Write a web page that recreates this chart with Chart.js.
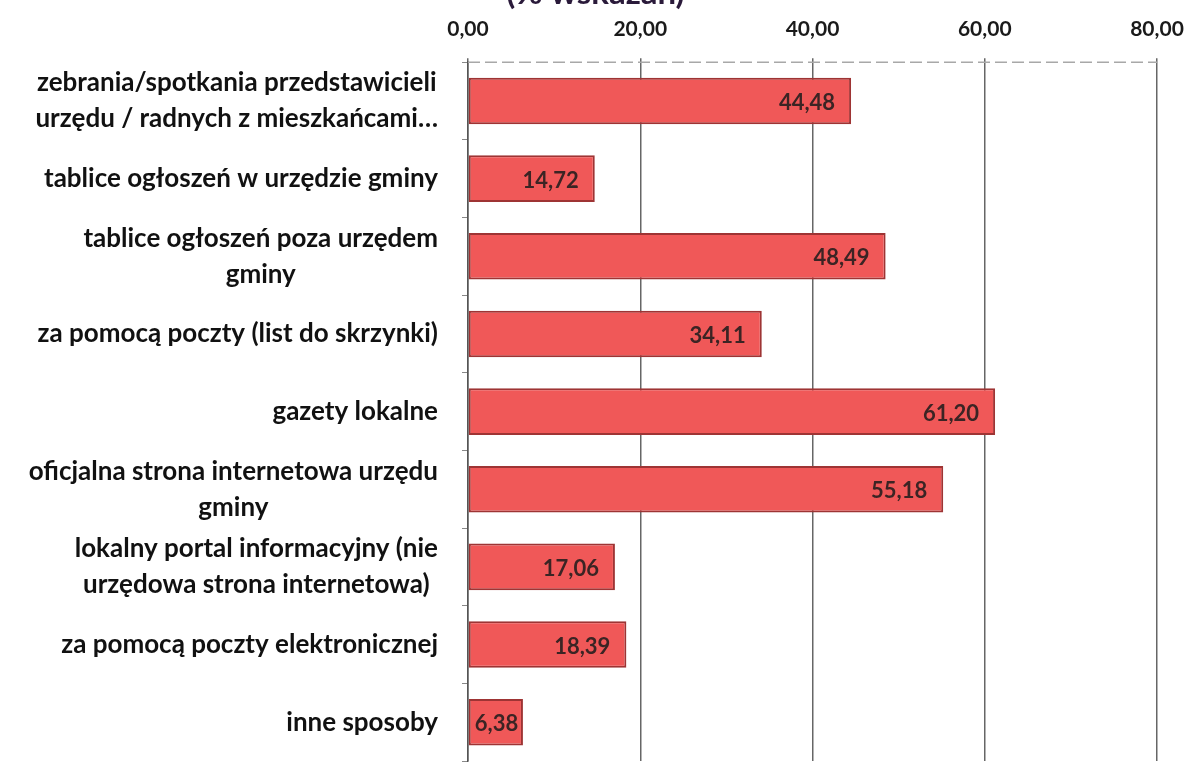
<!DOCTYPE html>
<html>
<head>
<meta charset="utf-8">
<script src="https://cdn.jsdelivr.net/npm/chart.js@4"></script>
<style>
  html, body { margin: 0; padding: 0; background: #fff; overflow: hidden; }
  #wrap { position: absolute; left: 0; top: 0; width: 1191px; height: 769px; }
</style>
</head>
<body>
<div id="wrap"><canvas id="bar-chart"></canvas></div>
<script>
// dane z wykresu
const categories = [
    ["zebrania/spotkania przedstawicieli", "urzędu / radnych z mieszkańcami…"],
    "tablice ogłoszeń w urzędzie gminy",
    ["tablice ogłoszeń poza urzędem", "gminy"],
    "za pomocą poczty (list do skrzynki)",
    "gazety lokalne",
    ["oficjalna strona internetowa urzędu", "gminy"],
    ["lokalny portal informacyjny (nie", "urzędowa strona internetowa)"],
    "za pomocą poczty elektronicznej",
    "inne sposoby"
];
const values = [44.48, 14.72, 48.49, 34.11, 61.20, 55.18, 17.06, 18.39, 6.38];
const axisMin = 0;
const axisMax = 80;
const axisStep = 20;
const titleText = "(% wskazań)";

const fmt = v => v.toFixed(2).replace('.', ',');
const FONT = 'Lato, "Open Sans", sans-serif';

// tytuł ucięty u góry (widoczny tylko dół liter)
const cutTitle = {
    id: 'cutTitle',
    afterDraw(chart) {
        const ctx = chart.ctx;
        ctx.save();
        ctx.font = 'bold 33px ' + FONT;
        ctx.fillStyle = '#2a1a3a';
        ctx.textAlign = 'center';
        ctx.textBaseline = 'alphabetic';
        ctx.fillText(titleText, chart.width / 2, 4);
        ctx.restore();
    }
};

// etykiety kategorii: blok wyrównany do prawej, linie wyśrodkowane
const categoryLabels = {
    id: 'categoryLabels',
    afterDraw(chart) {
        const ctx = chart.ctx;
        const yScale = chart.scales.y;
        const right = chart.chartArea.left - 30;
        ctx.save();
        ctx.font = 'bold 26px ' + FONT;
        ctx.fillStyle = '#111';
        ctx.textAlign = 'center';
        ctx.textBaseline = 'middle';
        categories.forEach((label, i) => {
            const lines = Array.isArray(label) ? label : [label];
            const w = Math.max(...lines.map(l => ctx.measureText(l).width));
            const cx = right - w / 2;
            const cy = yScale.getPixelForValue(i);
            const lh = 36;
            lines.forEach((l, j) => {
                ctx.fillText(l, cx, cy + (j - (lines.length - 1) / 2) * lh);
            });
        });
        ctx.restore();
    }
};

// wartości na końcu słupków + przerywana górna krawędź
const valueLabels = {
    id: 'valueLabels',
    beforeDatasetsDraw(chart) {
        const ctx = chart.ctx;
        const area = chart.chartArea;
        ctx.save();
        ctx.strokeStyle = '#a8a8a8';
        ctx.lineWidth = 1.5;
        ctx.setLineDash([12, 5]);
        ctx.beginPath();
        ctx.moveTo(area.left, area.top);
        ctx.lineTo(area.right, area.top);
        ctx.stroke();
        ctx.restore();
    },
    afterDatasetsDraw(chart) {
        const ctx = chart.ctx;
        const meta = chart.getDatasetMeta(0);
        ctx.save();
        ctx.font = 'bold 22px ' + FONT;
        ctx.fillStyle = '#3b2424';
        ctx.textAlign = 'right';
        ctx.textBaseline = 'middle';
        meta.data.forEach((bar, i) => {
            const text = fmt(values[i]);
            const w = ctx.measureText(text).width;
            const x = Math.max(bar.x - 16, bar.base + 6 + w);
            ctx.fillText(text, x, bar.y + 2);
        });
        ctx.restore();
    }
};

document.addEventListener('DOMContentLoaded', function() {
    const canvas = document.getElementById('bar-chart');
    const ctx = canvas.getContext('2d');
    new Chart(ctx, {
        type: 'bar',
        data: {
            labels: categories,
            datasets: [{
                data: values,
                backgroundColor: '#f05858',
                borderColor: '#9e3434',
                borderWidth: 2,
                borderSkipped: false,
                categoryPercentage: 1,
                barPercentage: 0.6
            }]
        },
        options: {
            indexAxis: 'y',
            responsive: true,
            maintainAspectRatio: false,
            animation: false,
            layout: {
                padding: { left: 0, right: 0, top: 1, bottom: 8 }
            },
            plugins: {
                legend: { display: false },
                tooltip: { enabled: false },
                title: { display: false }
            },
            scales: {
                x: {
                    position: 'top',
                    min: axisMin,
                    max: axisMax,
                    afterFit(scale) { scale.paddingRight = 34; },
                    ticks: {
                        stepSize: axisStep,
                        color: '#1a1a1a',
                        padding: 16,
                        font: { family: FONT, size: 21, weight: 'bold' },
                        callback: v => fmt(v)
                    },
                    grid: {
                        color: '#666',
                        lineWidth: 1.5,
                        tickLength: 4
                    },
                    border: { display: false }
                },
                y: {
                    ticks: { display: false },
                    afterFit(scale) { scale.width = 468; },
                    grid: {
                        drawOnChartArea: false,
                        tickLength: 6,
                        color: '#888'
                    },
                    border: { display: true, color: '#555', width: 1.5 }
                }
            }
        },
        plugins: [categoryLabels, valueLabels, cutTitle]
    });
});
</script>
</body>
</html>
